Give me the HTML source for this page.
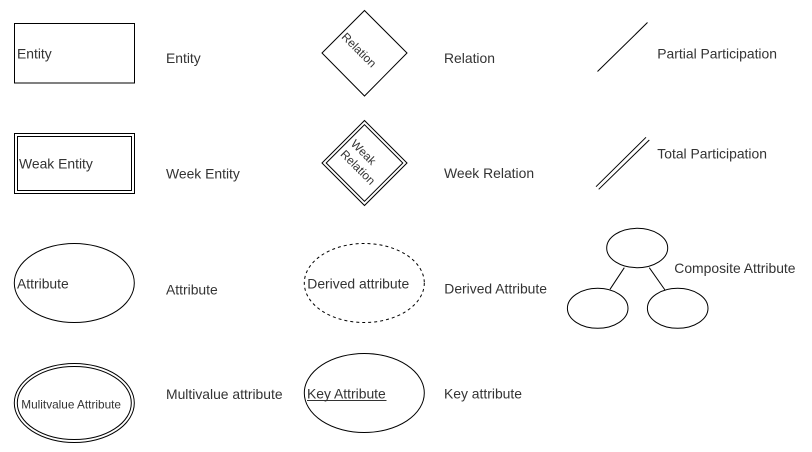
<!DOCTYPE html>
<html>
<head>
<meta charset="utf-8">
<style>
html,body{margin:0;padding:0;background:#fff;}
svg{display:block;}
text{font-family:"Liberation Sans",Arial,sans-serif;fill:#333;}
</style>
</head>
<body>
<svg width="812" height="452" viewBox="0 0 812 452" xmlns="http://www.w3.org/2000/svg">
  <g fill="none" stroke="#000" stroke-width="1">
    <!-- Entity -->
    <rect x="14.5" y="23.5" width="120" height="59.5"/>
    <!-- Weak entity -->
    <rect x="14.5" y="133.5" width="120" height="60"/>
    <rect x="17.5" y="136.5" width="114" height="54"/>
    <!-- Relation diamond -->
    <polygon points="364.5,10.5 407,53 364.5,96 322,53"/>
    <!-- Weak relation -->
    <polygon points="364.5,120.5 407,163 364.5,205.5 322,163"/>
    <polygon points="364.5,124.7 402.8,163 364.5,201.3 326.2,163"/>
    <!-- Partial participation -->
    <line x1="597.5" y1="71.5" x2="647.5" y2="22.5"/>
    <!-- Total participation -->
    <line x1="596" y1="186.7" x2="646" y2="137.3"/>
    <line x1="598.7" y1="189.3" x2="649.3" y2="140"/>
    <!-- Attribute -->
    <ellipse cx="74.3" cy="283" rx="60" ry="39.5"/>
    <!-- Multivalue -->
    <ellipse cx="74.3" cy="403" rx="60" ry="39.5"/>
    <ellipse cx="74.3" cy="403" rx="57" ry="36.5"/>
    <!-- Derived -->
    <ellipse cx="364.3" cy="283" rx="60" ry="39.5" stroke-dasharray="3,3"/>
    <!-- Key -->
    <ellipse cx="364.3" cy="393" rx="60" ry="39.5"/>
    <!-- Composite -->
    <ellipse cx="637.2" cy="248" rx="30.5" ry="19.7"/>
    <ellipse cx="597.7" cy="308.3" rx="30.3" ry="20"/>
    <ellipse cx="677.7" cy="308.3" rx="30.3" ry="20"/>
    <line x1="624.3" y1="267.7" x2="610" y2="289.3"/>
    <line x1="649.3" y1="267.7" x2="665" y2="290"/>
    <!-- key underline -->
    <line x1="307" y1="400.5" x2="386.5" y2="400.5" stroke="#333"/>
  </g>

  <!-- Shape texts -->
  <text x="17" y="58.5" font-size="13.9">Entity</text>
  <text x="19" y="168.4" font-size="13.9">Weak Entity</text>
  <g transform="translate(359,50) rotate(45)">
    <text x="0" y="4" font-size="11.8" text-anchor="middle">Relation</text>
  </g>
  <g transform="translate(360.5,159.6) rotate(45)">
    <text x="-18" y="-3.3" font-size="11.8">Weak</text>
    <text x="-18" y="11.3" font-size="11.8">Relation</text>
  </g>
  <text x="17" y="288.7" font-size="13.9">Attribute</text>
  <text x="21.3" y="408.4" font-size="11.8">Mulitvalue Attribute</text>
  <text x="307.3" y="288.7" font-size="13.9">Derived attribute</text>
  <text x="307" y="398.7" font-size="13.9">Key Attribute</text>

  <!-- Labels -->
  <text x="166" y="63" font-size="13.9">Entity</text>
  <text x="166" y="178.4" font-size="13.9">Week Entity</text>
  <text x="166" y="294.7" font-size="13.9">Attribute</text>
  <text x="166" y="399" font-size="13.9">Multivalue attribute</text>
  <text x="444" y="63" font-size="13.9">Relation</text>
  <text x="444" y="178" font-size="13.9">Week Relation</text>
  <text x="444.3" y="293.7" font-size="13.9">Derived Attribute</text>
  <text x="444" y="398.4" font-size="13.9">Key attribute</text>
  <text x="657.3" y="58.7" font-size="13.9">Partial Participation</text>
  <text x="657.3" y="158.7" font-size="13.9">Total Participation</text>
  <text x="674.3" y="273" font-size="13.9">Composite Attribute</text>
</svg>
</body>
</html>
